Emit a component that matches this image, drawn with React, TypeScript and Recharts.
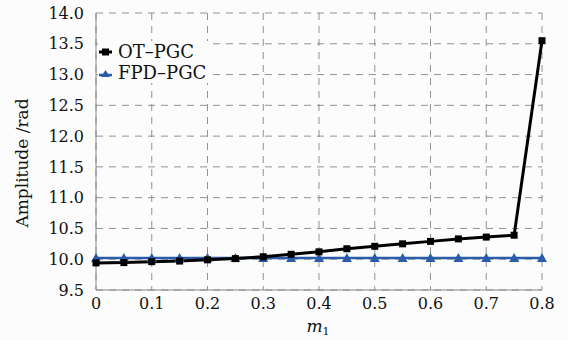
import { LineChart, Line, XAxis, YAxis, CartesianGrid } from 'recharts';

// modulation depth m1
const mValues = [0, 0.05, 0.1, 0.15, 0.2, 0.25, 0.3, 0.35, 0.4, 0.45, 0.5, 0.55, 0.6, 0.65, 0.7, 0.75, 0.8];
// demodulated amplitude (rad)
const otPgc = [9.94, 9.945, 9.96, 9.97, 9.99, 10.01, 10.04, 10.08, 10.12, 10.17, 10.21, 10.25, 10.29, 10.33, 10.36, 10.39, 13.55];
const fpdPgc = [10.02, 10.02, 10.02, 10.02, 10.02, 10.02, 10.02, 10.02, 10.02, 10.02, 10.02, 10.02, 10.02, 10.02, 10.02, 10.02, 10.02];

const xTicks = [0, 0.1, 0.2, 0.3, 0.4, 0.5, 0.6, 0.7, 0.8];
const yTicks = [9.5, 10, 10.5, 11, 11.5, 12, 12.5, 13, 13.5, 14];

const FONT = '"DejaVu Serif", serif';
const BLUE = '#2a5caa';

const data = mValues.map((m, i) => ({ m, ot: otPgc[i], fpd: fpdPgc[i] }));

const SquareDot = (props: any) => {
  const { cx, cy, index } = props;
  if (cx == null || cy == null) return <g key={index} />;
  return <rect key={index} x={cx - 3.5} y={cy - 3.5} width={7} height={7} fill="#000" />;
};

const TriangleDot = (props: any) => {
  const { cx, cy, index } = props;
  if (cx == null || cy == null) return <g key={index} />;
  return <polygon key={index} points={`${cx},${cy - 5} ${cx - 5},${cy + 4} ${cx + 5},${cy + 4}`} fill={BLUE} />;
};

// legend sits inside the plot, top-left, on a plain patch over the grid
const LegendBox = () => (
  <div
    style={{
      position: 'absolute',
      left: 98,
      top: 41,
      background: '#fcfcfc',
      fontFamily: FONT,
      fontSize: 18,
      lineHeight: '21px',
      color: '#111',
      padding: '0 6px 0 0',
    }}
  >
    <div style={{ display: 'flex', alignItems: 'center' }}>
      <svg width={16} height={12}>
        <line x1={1} y1={6} x2={14} y2={6} stroke="#000" strokeWidth={3} />
        <rect x={4} y={2.5} width={7} height={7} fill="#000" />
      </svg>
      <span style={{ marginLeft: 4 }}>OT–PGC</span>
    </div>
    <div style={{ display: 'flex', alignItems: 'center' }}>
      <svg width={16} height={12}>
        <line x1={1} y1={8} x2={14} y2={8} stroke={BLUE} strokeWidth={2.5} />
        <polygon points="7.5,3 3,10 12,10" fill={BLUE} />
      </svg>
      <span style={{ marginLeft: 4 }}>FPD–PGC</span>
    </div>
  </div>
);

export default function App() {
  return (
    <div style={{ position: 'absolute', left: 0, top: 0, width: 568, height: 340, background: '#fcfcfc' }}>
      <LineChart width={568} height={340} data={data} margin={{ top: 13, right: 26, bottom: 20, left: 40 }}>
        <CartesianGrid stroke="#777" strokeDasharray="7 6" strokeWidth={0.8} />
        <XAxis
          dataKey="m"
          type="number"
          domain={[0, 0.8]}
          ticks={xTicks}
          tickFormatter={(v: number) => (v === 0 ? '0' : String(v))}
          stroke="#888"
          tickLine={false}
          tick={{ fill: '#111', fontFamily: FONT, fontSize: 16 }}
          tickMargin={2}
        />
        <XAxis xAxisId="top" orientation="top" dataKey="m" type="number" domain={[0, 0.8]} stroke="#888" tick={false} tickLine={false} height={0} />
        <YAxis
          type="number"
          domain={[9.5, 14]}
          ticks={yTicks}
          tickFormatter={(v: number) => v.toFixed(1)}
          width={56}
          stroke="#888"
          tickLine={false}
          tick={{ fill: '#111', fontFamily: FONT, fontSize: 16 }}
          tickMargin={6}
        />
        <YAxis yAxisId="right" orientation="right" domain={[9.5, 14]} stroke="#888" tick={false} tickLine={false} width={0} />
        <Line dataKey="fpd" stroke={BLUE} strokeWidth={2.5} dot={TriangleDot} isAnimationActive={false} />
        <Line dataKey="ot" stroke="#000" strokeWidth={3} dot={SquareDot} isAnimationActive={false} />
        <text x={22} y={163} transform="rotate(-90 22 163)" textAnchor="middle" dominantBaseline="central" fontFamily={FONT} fontSize={17} fill="#111">
          Amplitude /rad
        </text>
        <text x={318} y={332} textAnchor="middle" fontFamily={FONT} fontSize={17} fill="#111">
          <tspan fontStyle="italic">m</tspan>
          <tspan fontSize={11} dy={3}>1</tspan>
        </text>
      </LineChart>
      <LegendBox />
    </div>
  );
}
